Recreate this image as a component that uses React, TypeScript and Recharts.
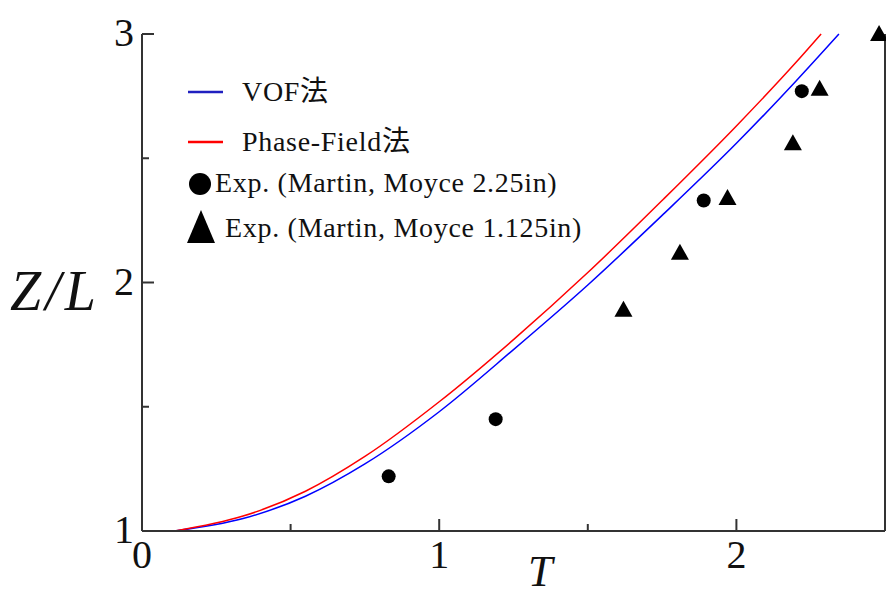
import React from 'react';
import {
  ComposedChart,
  Line,
  Scatter,
  XAxis,
  YAxis
} from 'recharts';

// simulated rise of the bubble nose, Z/L against T
const vofT = [0.11, 0.34, 0.55, 0.75, 1.0, 1.25, 1.5, 1.75, 2.0, 2.2, 2.345];
const vofZ = [1.0, 1.05, 1.14, 1.27, 1.48, 1.73, 1.99, 2.27, 2.56, 2.81, 3.0];

const pfT = [0.11, 0.34, 0.55, 0.75, 1.0, 1.25, 1.5, 1.75, 2.0, 2.2, 2.285];
const pfZ = [1.0, 1.06, 1.16, 1.3, 1.52, 1.77, 2.04, 2.33, 2.63, 2.885, 3.0];

// Martin & Moyce experiments
const exp225T = [0.83, 1.19, 1.89, 2.22];
const exp225Z = [1.22, 1.45, 2.33, 2.77];

const exp1125T = [1.62, 1.81, 1.97, 2.19, 2.28, 2.48];
const exp1125Z = [1.89, 2.12, 2.34, 2.56, 2.78, 3.0];

const xTicks = [0, 0.5, 1, 1.5, 2, 2.5];
const yTicks = [1, 1.5, 2, 2.5, 3];

const pairs = (ts: number[], zs: number[]) => ts.map((t, i) => ({ t, z: zs[i] }));

const vofData = pairs(vofT, vofZ);
const pfData = pairs(pfT, pfZ);
const exp225Data = pairs(exp225T, exp225Z);
const exp1125Data = pairs(exp1125T, exp1125Z);

const FONT = 'Liberation Serif, Times New Roman, Times, Noto Sans CJK JP, serif';
const AXIS = '#333';
const BLUE = '#0000ff';
const RED = '#ff0000';

const isMajor = (v: number) => Number.isInteger(v);

const BottomTick = (props: any) => {
  const { x, y, payload } = props;
  const len = isMajor(payload.value) ? 12 : 7;
  return (
    <g>
      <line x1={x} y1={y} x2={x} y2={y - len} stroke={AXIS} strokeWidth={2} />
      {isMajor(payload.value) && (
        <text x={x} y={y + 37} textAnchor="middle" style={{ fontFamily: FONT }} fontSize={40} fill="#111">
          {payload.value}
        </text>
      )}
    </g>
  );
};

const TopTick = (props: any) => {
  const { x, y, payload } = props;
  const len = isMajor(payload.value) ? 14 : 8;
  return <line x1={x} y1={y} x2={x} y2={y + len} stroke={AXIS} strokeWidth={2} />;
};

const LeftTick = (props: any) => {
  const { x, y, payload } = props;
  const len = isMajor(payload.value) ? 12 : 7;
  return (
    <g>
      <line x1={x} y1={y} x2={x + len} y2={y} stroke={AXIS} strokeWidth={2} />
      {isMajor(payload.value) && (
        <text x={x - 8} y={y + 12} textAnchor="end" style={{ fontFamily: FONT }} fontSize={40} fill="#111">
          {payload.value}
        </text>
      )}
    </g>
  );
};

const RightTick = (props: any) => {
  const { x, y, payload } = props;
  const len = isMajor(payload.value) ? 12 : 7;
  return <line x1={x} y1={y} x2={x - len} y2={y} stroke={AXIS} strokeWidth={2} />;
};

const Dot = (props: any) => <circle cx={props.cx} cy={props.cy} r={7} fill="#000" />;

const Tri = (props: any) => {
  const { cx, cy } = props;
  return <path d={`M${cx},${cy - 9} L${cx + 9},${cy + 7} L${cx - 9},${cy + 7} Z`} fill="#000" />;
};

const legendText = { style: { fontFamily: FONT }, fontSize: 28, letterSpacing: 0.7, fill: '#111' };

const App: React.FC = () => {
  return (
    <div style={{ position: 'absolute', left: 0, top: 0, width: 886, height: 596, background: '#fff', overflow: 'hidden' }}>
      <ComposedChart width={886} height={596} margin={{ top: 34, right: 0, bottom: 0, left: 0 }}>
        <XAxis
          xAxisId="b"
          dataKey="t"
          type="number"
          domain={[0, 2.5]}
          ticks={xTicks}
          interval={0}
          height={65}
          tickSize={0}
          tickMargin={0}
          tickLine={false}
          axisLine={{ stroke: AXIS, strokeWidth: 2 }}
          tick={<BottomTick />}
        />
        <XAxis
          xAxisId="top"
          orientation="top"
          dataKey="t"
          type="number"
          domain={[0, 2.5]}
          ticks={xTicks}
          interval={0}
          height={0}
          tickSize={0}
          tickMargin={0}
          tickLine={false}
          axisLine={{ stroke: AXIS, strokeWidth: 2 }}
          tick={<TopTick />}
        />
        <YAxis
          yAxisId="l"
          dataKey="z"
          type="number"
          domain={[1, 3]}
          ticks={yTicks}
          interval={0}
          width={142}
          tickSize={0}
          tickMargin={0}
          tickLine={false}
          axisLine={{ stroke: AXIS, strokeWidth: 2 }}
          tick={<LeftTick />}
        />
        <YAxis
          yAxisId="r"
          orientation="right"
          dataKey="z"
          type="number"
          domain={[1, 3]}
          ticks={yTicks}
          interval={0}
          width={1}
          tickSize={0}
          tickMargin={0}
          tickLine={false}
          axisLine={{ stroke: AXIS, strokeWidth: 2 }}
          tick={<RightTick />}
        />
        <Line
          xAxisId="b"
          yAxisId="l"
          data={vofData}
          dataKey="z"
          type="monotone"
          stroke={BLUE}
          strokeWidth={1.5}
          dot={false}
          isAnimationActive={false}
        />
        <Line
          xAxisId="b"
          yAxisId="l"
          data={pfData}
          dataKey="z"
          type="monotone"
          stroke={RED}
          strokeWidth={1.5}
          dot={false}
          isAnimationActive={false}
        />
        <Scatter
          xAxisId="b"
          yAxisId="l"
          data={exp225Data}
          dataKey="z"
          shape={<Dot />}
          isAnimationActive={false}
        />
        <Scatter
          xAxisId="b"
          yAxisId="l"
          data={exp1125Data}
          dataKey="z"
          shape={<Tri />}
          isAnimationActive={false}
        />
      </ComposedChart>

      <svg width={886} height={596} style={{ position: 'absolute', left: 0, top: 0, pointerEvents: 'none' }}>
        <line x1={188} y1={92} x2={223} y2={92} stroke="#2020c0" strokeWidth={2.5} />
        <text x={242} y={101} {...legendText}>VOF法</text>
        <line x1={188} y1={142} x2={223} y2={142} stroke={RED} strokeWidth={2.5} />
        <text x={242} y={151} {...legendText}>Phase-Field法</text>
        <circle cx={200} cy={184} r={11} fill="#000" />
        <text x={215} y={192} {...legendText}>Exp. (Martin, Moyce 2.25in)</text>
        <path d="M201,210 L215,243 L187,243 Z" fill="#000" />
        <text x={225} y={237} {...legendText}>Exp. (Martin, Moyce 1.125in)</text>

        <text x={10} y={310} style={{ fontFamily: FONT }} fontStyle="italic" fontSize={56} letterSpacing={4} fill="#111">Z/L</text>
        <text x={528} y={586} style={{ fontFamily: FONT }} fontStyle="italic" fontSize={44} fill="#111">T</text>
      </svg>
    </div>
  );
};

export default App;
